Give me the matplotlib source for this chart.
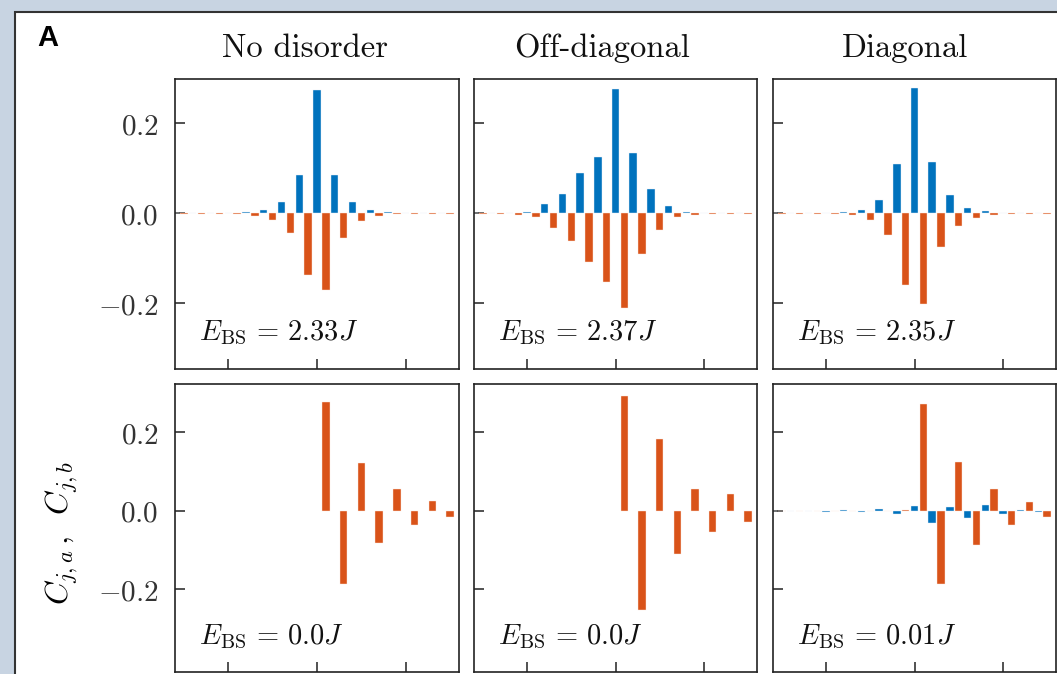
import numpy as np
import matplotlib
matplotlib.use("Agg")
import matplotlib.pyplot as plt
from matplotlib.patches import Rectangle

plt.rcParams['mathtext.fontset'] = 'cm'

W, H = 1057, 674
DPI = 100

# ---------------- data ----------------
cells = np.arange(-8, 8)            # unit cells, sublattice a at j, sublattice b at j + 0.5
titles = ["No disorder", "Off-diagonal", "Diagonal"]
energies = [["2.33", "2.37", "2.35"], ["0.0", "0.0", "0.01"]]
yticks = [-0.2, 0.0, 0.2]
ytick_labels = ["$-0.2$", "$0.0$", "$0.2$"]
xticks = [-5, 0, 5]

top_none_a = [0.0004, 0.0004, 0.0005, 0.0008, 0.002, 0.008, 0.026, 0.086, 0.275, 0.086, 0.026, 0.008, 0.002, 0.0008, 0.0005, 0.0004]
top_none_b = [-0.0004, -0.0004, -0.0006, -0.0015, -0.006, -0.014, -0.043, -0.138, -0.171, -0.054, -0.017, -0.0066, -0.0015, -0.0006, -0.0004, -0.0004]
top_off_a = [0.0004, 0.0007, 0.0015, 0.004, 0.021, 0.044, 0.090, 0.125, 0.277, 0.135, 0.054, 0.017, 0.004, 0.0015, 0.0007, 0.0004]
top_off_b = [-0.0004, -0.001, -0.004, -0.008, -0.033, -0.062, -0.108, -0.153, -0.210, -0.090, -0.038, -0.009, -0.003, -0.001, -0.0005, -0.0004]
top_diag_a = [0.0004, 0.0004, 0.0006, 0.001, 0.002, 0.008, 0.030, 0.109, 0.279, 0.115, 0.040, 0.013, 0.005, 0.0015, 0.0006, 0.0004]
top_diag_b = [-0.0004, -0.0004, -0.001, -0.002, -0.004, -0.015, -0.049, -0.160, -0.201, -0.074, -0.027, -0.010, -0.004, -0.001, -0.0006, -0.0004]

bot_none_a = [0.0, 0.0, 0.0, 0.0, 0.0, 0.0, 0.0, 0.0, 0.0, 0.0, 0.0, 0.0, 0.0, 0.0, 0.0, 0.0]
bot_none_b = [0.0, 0.0, 0.0, 0.0, 0.0, 0.0, 0.0, 0.0, 0.277, -0.186, 0.122, -0.083, 0.055, -0.037, 0.024, -0.016]
bot_off_a = [0.0, 0.0, 0.0, 0.0, 0.0, 0.0, 0.0, 0.0, 0.0, 0.0, 0.0, 0.0, 0.0, 0.0, 0.0, 0.0]
bot_off_b = [0.0, 0.0, 0.0, 0.0, 0.0, 0.0, 0.0, 0.0, 0.292, -0.254, 0.184, -0.110, 0.055, -0.054, 0.042, -0.028]
bot_diag_a = [0.0006, 0.001, 0.001, -0.002, 0.003, -0.003, 0.005, -0.009, 0.012, -0.032, 0.009, -0.017, 0.014, -0.008, 0.002, -0.004]
bot_diag_b = [0.0004, -0.0004, 0.0005, -0.0005, 0.001, -0.001, 0.001, 0.003, 0.273, -0.186, 0.124, -0.087, 0.055, -0.036, 0.023, -0.016]

data_a = [[top_none_a, top_off_a, top_diag_a], [bot_none_a, bot_off_a, bot_diag_a]]
data_b = [[top_none_b, top_off_b, top_diag_b], [bot_none_b, bot_off_b, bot_diag_b]]

# ---------------- style ----------------
blue = "#0072BD"
orange = "#D95319"
spine_c = "#222222"

fig = plt.figure(figsize=(W / DPI, H / DPI), dpi=DPI)
fig.patch.set_facecolor("#c8d4e2")
frame = Rectangle((15 / W, -0.1), 1.2, 1 - 11.5 / H + 0.1, transform=fig.transFigure,
                  facecolor="white", edgecolor="#333333", linewidth=1.5, zorder=-10)
fig.patches.append(frame)

col_x = [(175, 459), (474, 757), (773, 1056)]
row_y = [(78.5, 368.5), (383.5, 672)]
ylims = [(-0.345, 0.30), (-0.411, 0.325)]

def rect(l, r, t, b):
    return [l / W, 1 - b / H, (r - l) / W, (b - t) / H]

def draw_bars(ax, x, vals, color, edge):
    vals = np.asarray(vals)
    keep = vals != 0
    ax.bar(x[keep], vals[keep], width=0.42, color=color, edgecolor=edge, linewidth=0.3, zorder=2)

for ri in range(2):
    for ci in range(3):
        l, r = col_x[ci]
        t, b = row_y[ri]
        ax = fig.add_axes(rect(l, r, t, b))
        ax.set_zorder(1)
        draw_bars(ax, cells, data_a[ri][ci], blue, "#e8f0f8")
        draw_bars(ax, cells + 0.5, data_b[ri][ci], orange, "#fbe9e0")
        ax.set_xlim(-8, 8)
        ax.set_ylim(*ylims[ri])
        ax.set_xticks(xticks)
        ax.set_xticklabels([])
        ax.set_yticks(yticks)
        if ci == 0:
            ax.set_yticklabels(ytick_labels, fontsize=21, color="#333333")
        else:
            ax.set_yticklabels([])
        ax.tick_params(direction="in", length=7, width=1.1, color=spine_c, pad=12)
        for s in ax.spines.values():
            s.set_linewidth(1.2)
            s.set_color(spine_c)
        ax.text(0.085, 0.098, r"$E_{\rm BS} \,=\, %sJ$" % energies[ri][ci], transform=ax.transAxes,
                fontsize=20.5, ha="left", va="baseline", color="#111111")

# titles
title_cx = [305, 602, 905]
for ci in range(3):
    fig.text(title_cx[ci] / W, 1 - 57 / H, titles[ci], family="cmr10", fontsize=23.5,
             ha="center", va="baseline", color="#111111")

fig.text(62 / W, 1 - 533 / H, r"$C_{j,a}\,,\;\;C_{j,b}$", rotation=90, fontsize=23,
         ha="center", va="center")
fig.text(48 / W, 1 - 38 / H, "A", family="Liberation Sans", fontweight="bold", fontsize=21,
         ha="center", va="center")

fig.savefig("out.png", dpi=DPI, facecolor=fig.get_facecolor())
